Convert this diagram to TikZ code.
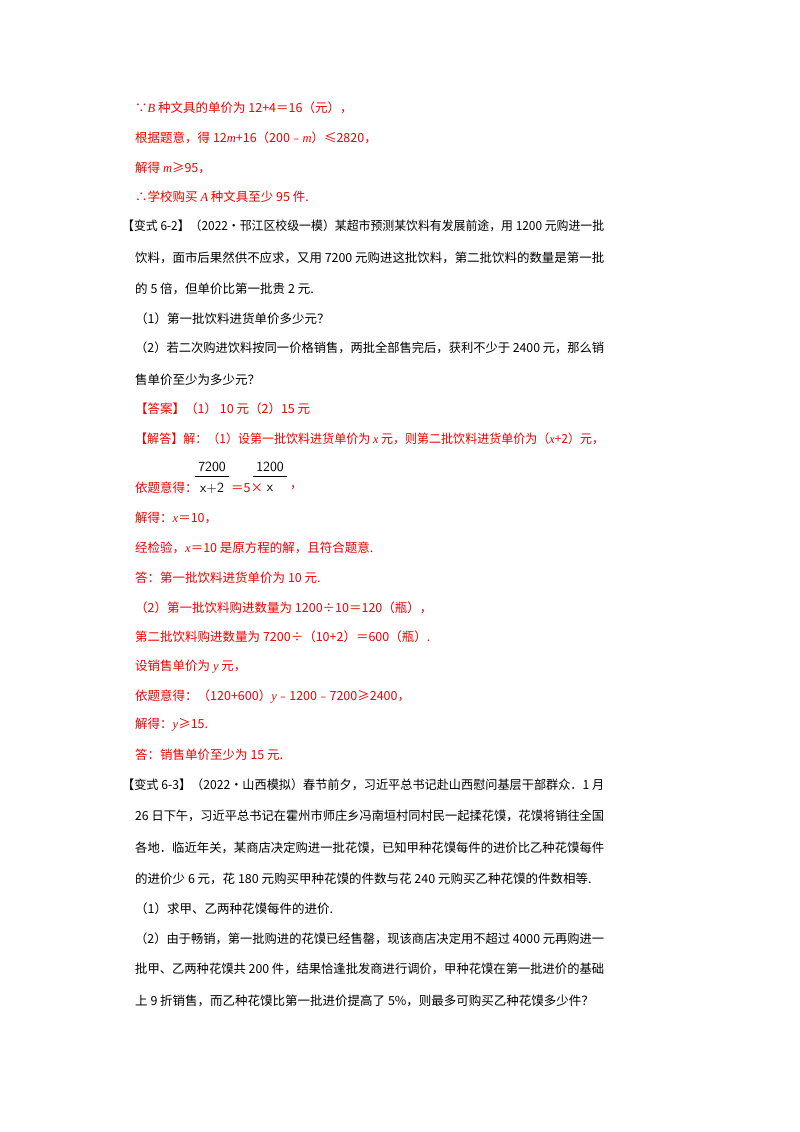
\documentclass[tikz,border=0pt]{standalone}
\usepackage{fontspec}
\usepackage{graphicx}
\setmainfont{Liberation Serif}
\newfontfamily\cjk{Noto Sans CJK SC}
\definecolor{ansred}{RGB}{240,0,0}
\newcommand{\vv}[1]{{\rmfamily\itshape #1}}
\newcommand{\fullA}[1]{\resizebox{482pt}{\height}{#1}}
\newcommand{\fullB}[1]{\resizebox{469pt}{\height}{#1}}
\tikzset{ln/.style={anchor=west,inner sep=0pt,font=\cjk\fontsize{12.5}{14}\selectfont},
red/.style={ln,text=ansred},
fr/.style={inner sep=0pt,font=\fontfamily{lmss}\fontsize{14}{16}\selectfont}}
\begin{document}
\begin{tikzpicture}[x=1pt,y=-1pt]
\useasboundingbox[fill=white] (0,0) rectangle (800,1132);
\node[red] (l1) at (135,108) {∵\vv{B} 种文具的单价为 12+4＝16（元），};
\node[red] (l2) at (135,138) {根据题意，得 12\vv{m}+16（200﹣\vv{m}）≤2820，};
\node[red] (l3) at (135,168) {解得 \vv{m}≥95，};
\node[red] (l4) at (135,197) {∴学校购买 \vv{A} 种文具至少 95 件.};
\node[ln] (p1) at (122,226) {\fullA{【变式 6-2】（2022•邗江区校级一模）某超市预测某饮料有发展前途，用 1200 元购进一批}};
\node[ln] (p2) at (135,258) {\fullB{饮料，面市后果然供不应求，又用 7200 元购进这批饮料，第二批饮料的数量是第一批}};
\node[ln] (p3) at (135,289) {的 5 倍，但单价比第一批贵 2 元.};
\node[ln] (p4) at (135,319) {（1）第一批饮料进货单价多少元？};
\node[ln] (p5) at (135,348) {\fullB{（2）若二次购进饮料按同一价格销售，两批全部售完后，获利不少于 2400 元，那么销}};
\node[ln] (p6) at (135,380) {售单价至少为多少元？};
\node[red] (a1) at (135,409) {【答案】（1） 10 元（2）15 元};
\node[red] (a2) at (135,439) {\fullB{【解答】解：（1）设第一批饮料进货单价为 \vv{x} 元，则第二批饮料进货单价为（\vv{x}+2）元，}};
\node[red] (a3) at (135,488) {依题意得：};
\node[fr] (n1) at (212,467) {7200};
\node[fr] (d1) at (212,488) {x+2};
\draw[line width=0.7pt] (195,476) -- (229,476);
\node[red] (a3b) at (231,488) {＝5×};
\node[fr] (n2) at (270,467) {1200};
\node[fr] (d2) at (270,488) {x};
\draw[line width=0.7pt] (253,476) -- (287,476);
\node[red] (a3c) at (290,488) {，};
\node[red] (a4) at (135,518) {解得：\vv{x}＝10，};
\node[red] (a5) at (135,548) {经检验，\vv{x}＝10 是原方程的解，且符合题意.};
\node[red] (a6) at (135,578) {答：第一批饮料进货单价为 10 元.};
\node[red] (a7) at (135,608) {（2）第一批饮料购进数量为 1200÷10＝120（瓶），};
\node[red] (a8) at (135,637) {第二批饮料购进数量为 7200÷（10+2）＝600（瓶）.};
\node[red] (a9) at (135,667) {设销售单价为 \vv{y} 元，};
\node[red] (a10) at (135,696) {依题意得：（120+600）\vv{y}﹣1200﹣7200≥2400，};
\node[red] (a11) at (135,725) {解得：\vv{y}≥15.};
\node[red] (a12) at (135,755) {答：销售单价至少为 15 元.};
\node[ln] (q1) at (122,785) {\fullA{【变式 6-3】（2022•山西模拟）春节前夕，习近平总书记赴山西慰问基层干部群众．1 月}};
\node[ln] (q2) at (135,816) {\fullB{26 日下午，习近平总书记在霍州市师庄乡冯南垣村同村民一起揉花馍，花馍将销往全国}};
\node[ln] (q3) at (135,848) {\fullB{各地．临近年关，某商店决定购进一批花馍，已知甲种花馍每件的进价比乙种花馍每件}};
\node[ln] (q4) at (135,879) {的进价少 6 元，花 180 元购买甲种花馍的件数与花 240 元购买乙种花馍的件数相等.};
\node[ln] (q5) at (135,909) {（1）求甲、乙两种花馍每件的进价.};
\node[ln] (q6) at (135,939) {\fullB{（2）由于畅销，第一批购进的花馍已经售罄，现该商店决定用不超过 4000 元再购进一}};
\node[ln] (q7) at (135,969) {\fullB{批甲、乙两种花馍共 200 件，结果恰逢批发商进行调价，甲种花馍在第一批进价的基础}};
\node[ln] (q8) at (135,1001) {上 9 折销售，而乙种花馍比第一批进价提高了 5\%，则最多可购买乙种花馍多少件？};
\end{tikzpicture}
\end{document}
